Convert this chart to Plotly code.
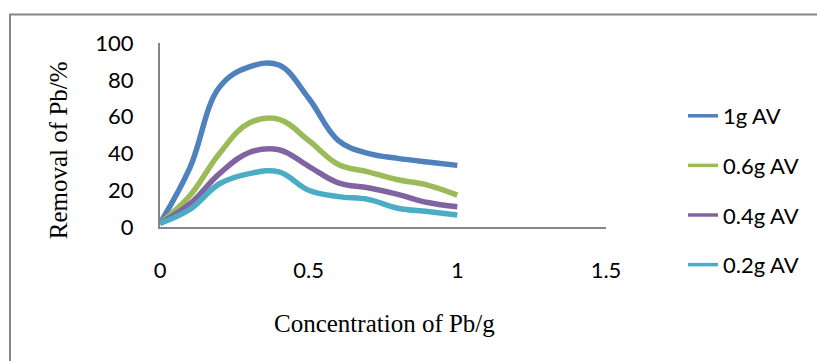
import plotly.graph_objects as go

x_conc = [0, 0.1, 0.2, 0.3, 0.4, 0.5, 0.6, 0.7, 0.8, 0.9, 1.0]
av_1g = [2, 32, 76, 87, 88, 70, 47, 40, 37.3, 35.3, 33.5]
av_06g = [2, 17, 40, 56.5, 58.5, 47, 34, 30, 25.7, 22.8, 17.3]
av_04g = [2, 12.5, 29, 40.5, 42, 33, 24, 21.3, 17.7, 13.3, 11]
av_02g = [2, 9.5, 23.5, 29, 30, 20, 16.5, 15, 10.2, 8.4, 6.5]

series_names = ["1g AV", "0.6g AV", "0.4g AV", "0.2g AV"]
series_values = [av_1g, av_06g, av_04g, av_02g]
colors = ["#4F81BD", "#9BBB59", "#8064A2", "#4BACC6"]

x_ticks = [0, 0.5, 1, 1.5]
x_tick_labels = ["0", "0.5", "1", "1.5"]
y_ticks = [0, 20, 40, 60, 80, 100]

W, H = 817, 361
L, R, T, B = 160, 211, 42.5, 134

fig = go.Figure()
for name, vals, c in zip(series_names, series_values, colors):
    fig.add_trace(go.Scatter(
        x=x_conc, y=vals, mode="lines", name=name,
        line=dict(color=c, width=5.5, shape="spline", smoothing=1.1),
        showlegend=False, hoverinfo="skip",
    ))
for name, c in zip(series_names, colors):
    fig.add_trace(go.Scatter(
        x=[None], y=[None], mode="lines", name=name,
        line=dict(color=c, width=3.5), legendgroup=name, showlegend=True,
    ))

tick_font = dict(family="Lato, Carlito, Calibri, sans-serif", size=22, color="#000000")
title_font = dict(family="Liberation Serif, Times New Roman, serif", size=25, color="#000000")

fig.update_layout(
    width=W, height=H,
    margin=dict(l=L, r=R, t=T, b=B, autoexpand=False),
    paper_bgcolor="white", plot_bgcolor="white",
    showlegend=True,
    legend=dict(
        xref="container", yref="container",
        x=683 / W, y=1 - 95 / H, xanchor="left", yanchor="top",
        font=tick_font, tracegroupgap=18, bgcolor="rgba(0,0,0,0)",
        borderwidth=0, maxheight=340,
    ),
    xaxis=dict(
        range=[0, 1.5], tickvals=x_ticks, ticktext=x_tick_labels,
        showgrid=False, zeroline=False, showline=True, linecolor="#868686",
        linewidth=2, ticks="", tickfont=tick_font, ticklabelstandoff=23,
    ),
    yaxis=dict(
        range=[0, 100], tickvals=y_ticks,
        showgrid=False, zeroline=False, showline=True, linecolor="#868686",
        linewidth=2, ticks="", tickfont=tick_font, ticklabelstandoff=20,
    ),
    shapes=[dict(
        type="rect", xref="paper", yref="paper",
        x0=(10 - L) / (W - L - R), x1=(W + 20 - L) / (W - L - R),
        y0=-(H + 20 - (H - B)) / (H - T - B), y1=((H - B) - 14) / (H - T - B),
        line=dict(color="#878787", width=2), fillcolor="rgba(0,0,0,0)", layer="below",
    )],
    annotations=[
        dict(text="Concentration of Pb/g", xref="paper", yref="paper",
             x=(384 - L) / (W - L - R), y=-((324 - (H - B)) / (H - T - B)),
             xanchor="center", yanchor="middle", showarrow=False, font=title_font),
        dict(text="Removal of Pb/%", xref="paper", yref="paper",
             x=-((L - 58) / (W - L - R)), y=((H - B) - 150) / (H - T - B),
             xanchor="center", yanchor="middle", showarrow=False, textangle=-90,
             font=title_font),
    ],
)

fig.write_html("out.html")
